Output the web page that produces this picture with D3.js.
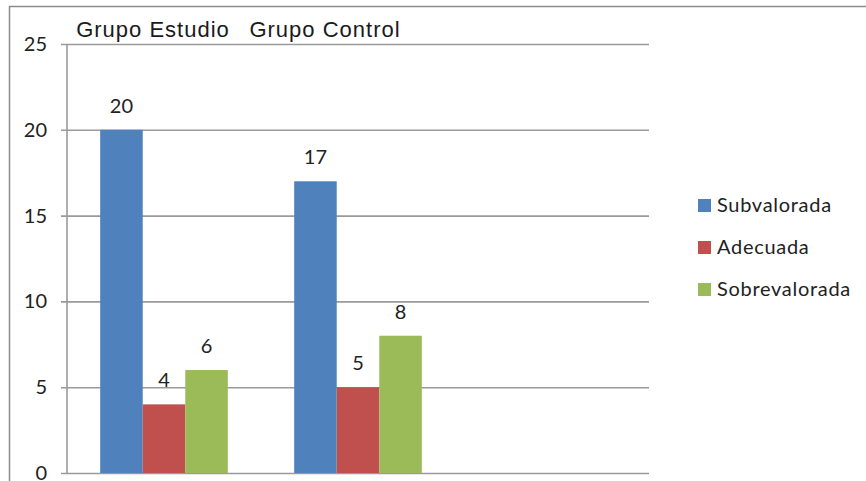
<!DOCTYPE html>
<html>
<head>
<meta charset="utf-8">
<script src="https://cdn.jsdelivr.net/npm/d3@7"></script>
<style>
  html, body { margin: 0; padding: 0; background: #fff; }
  svg { display: block; }
</style>
</head>
<body>
<svg id="chart" width="866" height="481"></svg>
<script>
// Valoración por grupo
const categories = ["Grupo Estudio", "Grupo Control"];
const seriesNames = ["Subvalorada", "Adecuada", "Sobrevalorada"];
const subvalorada = [20, 17];
const adecuada = [4, 5];
const sobrevalorada = [6, 8];
const yTicks = [0, 5, 10, 15, 20, 25];
const colors = ["#4F81BD", "#C0504D", "#9BBB59"];

const seriesValues = [subvalorada, adecuada, sobrevalorada];

const svg = d3.select("#chart");
const W = 866, H = 481;
const plot = { left: 67, right: 649, top: 44, bottom: 473 };
const bodyFont = "Lato, 'Open Sans', sans-serif";

// chart frame (top and left edges visible)
svg.append("path")
  .attr("d", `M9.5,${H} L9.5,6.5 L${W},6.5`)
  .attr("fill", "none")
  .attr("stroke", "#8c8c8c")
  .attr("stroke-width", 1.5);

// three category slots; the last one is left empty
const x0 = d3.scaleBand()
  .domain([...categories, ""])
  .range([plot.left, plot.right])
  .padding(0);

const x1 = d3.scaleBand()
  .domain(seriesNames)
  .range([0, x0.bandwidth()])
  .paddingInner(0)
  .paddingOuter(0.78);

const y = d3.scaleLinear()
  .domain([0, 25])
  .range([plot.bottom, plot.top]);

// gridlines + ticks
const yAxis = d3.axisLeft(y)
  .tickValues(yTicks)
  .tickSize(-(plot.right - plot.left) - 6)
  .tickFormat(d3.format("d"));

const gAxis = svg.append("g")
  .attr("transform", `translate(${plot.left - 6},0)`)
  .call(yAxis);
gAxis.select(".domain").remove();
gAxis.selectAll(".tick line")
  .attr("stroke", "#9a9a9a")
  .attr("stroke-width", 1.6);
gAxis.selectAll(".tick text")
  .attr("fill", "#222")
  .attr("font-family", bodyFont)
  .attr("font-size", 20)
  .attr("x", -14);

// vertical axis line
svg.append("line")
  .attr("x1", plot.left).attr("x2", plot.left)
  .attr("y1", y(25)).attr("y2", y(0))
  .attr("stroke", "#9a9a9a")
  .attr("stroke-width", 1.6);

// bars
const rows = categories.map((c, i) => ({
  category: c,
  values: seriesNames.map((s, j) => ({ series: s, value: seriesValues[j][i], color: colors[j] }))
}));

const groups = svg.append("g").selectAll("g")
  .data(rows)
  .join("g")
  .attr("transform", d => `translate(${x0(d.category)},0)`);

groups.selectAll("rect")
  .data(d => d.values)
  .join("rect")
  .attr("x", d => x1(d.series))
  .attr("y", d => y(d.value))
  .attr("width", x1.bandwidth())
  .attr("height", d => y(0) - y(d.value))
  .attr("fill", d => d.color);

// value labels
groups.selectAll("text")
  .data(d => d.values)
  .join("text")
  .attr("x", d => x1(d.series) + x1.bandwidth() / 2)
  .attr("y", d => y(d.value) - 17)
  .attr("text-anchor", "middle")
  .attr("fill", "#222")
  .attr("font-family", bodyFont)
  .attr("font-size", 20)
  .text(d => d.value);

// group titles along the top edge
const titleX = [153, 325];
svg.append("g").selectAll("text")
  .data(categories)
  .join("text")
  .attr("x", (d, i) => titleX[i])
  .attr("y", 37)
  .attr("text-anchor", "middle")
  .attr("fill", "#1a1a1a")
  .attr("font-family", "'Liberation Sans', Arial, sans-serif")
  .attr("font-size", 22)
  .attr("letter-spacing", 1.0)
  .text(d => d);

// legend
const legend = svg.append("g").attr("transform", "translate(698,205)");
const li = legend.selectAll("g")
  .data(seriesNames)
  .join("g")
  .attr("transform", (d, i) => `translate(0,${i * 42})`);
li.append("rect")
  .attr("x", 0).attr("y", -6)
  .attr("width", 13).attr("height", 13)
  .attr("fill", (d, i) => colors[i]);
li.append("text")
  .attr("x", 19)
  .attr("y", 0)
  .attr("dy", "0.35em")
  .attr("fill", "#222")
  .attr("font-family", bodyFont)
  .attr("font-size", 20)
  .attr("letter-spacing", 0.7)
  .text(d => d);
</script>
</body>
</html>
